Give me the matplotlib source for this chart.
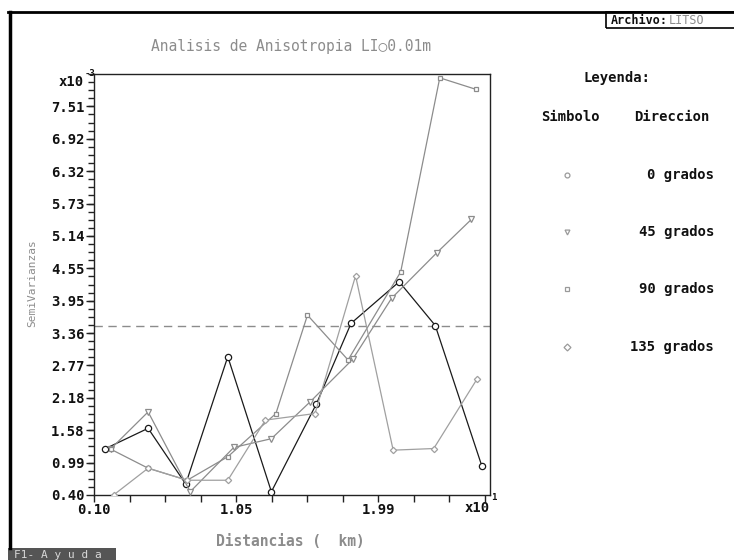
import numpy as np
import matplotlib
matplotlib.use("Agg")
import matplotlib.pyplot as plt
import matplotlib.patches as patches
from matplotlib.lines import Line2D

# lag distances (x10 km) and semivariances (x10^-3) per direction
dist_0 = [0.17, 0.46, 0.71, 0.99, 1.28, 1.58, 1.81, 2.13, 2.37, 2.68]
semi_0 = [1.24, 1.62, 0.60, 2.93, 0.46, 2.07, 3.54, 4.30, 3.50, 0.93]
dist_45 = [0.21, 0.46, 0.74, 1.03, 1.28, 1.54, 1.82, 2.08, 2.38, 2.61]
semi_45 = [1.24, 1.92, 0.46, 1.27, 1.43, 2.11, 2.88, 4.00, 4.83, 5.44]
dist_90 = [0.21, 0.46, 0.72, 0.99, 1.31, 1.52, 1.79, 2.14, 2.40, 2.64]
semi_90 = [1.24, 0.89, 0.67, 1.10, 1.89, 3.69, 2.87, 4.48, 8.03, 7.82]
dist_135 = [0.23, 0.46, 0.72, 0.99, 1.24, 1.57, 1.84, 2.09, 2.36, 2.65]
semi_135 = [0.40, 0.89, 0.67, 0.67, 1.77, 1.89, 4.41, 1.22, 1.25, 2.53]
sill = 3.50

y_labels = ["0.40", "0.99", "1.58", "2.18", "2.77", "3.36", "3.95",
            "4.55", "5.14", "5.73", "6.32", "6.92", "7.51"]
x_labels = ["0.10", "1.05", "1.99"]
directions = ["0 grados", "45 grados", "90 grados", "135 grados"]

W, H = 734, 560
MONO = ["DejaVu Sans Mono", "DejaVu Sans"]
GRAY = "#8c8c8c"


def fx(px):
    return px / W


def fy(py):
    return 1 - py / H


fig = plt.figure(figsize=(W / 100, H / 100), dpi=100)
fig.patch.set_facecolor("white")
ax = fig.add_axes([fx(94), fy(495), fx(490) - fx(94), fy(74) - fy(495)])

series = [
    (dist_0, semi_0, "o", "#1a1a1a", 4.5),
    (dist_45, semi_45, "v", GRAY, 4.0),
    (dist_90, semi_90, "s", GRAY, 3.2),
    (dist_135, semi_135, "D", "#a0a0a0", 3.2),
]
for xs, ys, m, c, ms in series:
    ax.plot(xs, ys, color=c, lw=0.9, marker=m, ms=ms,
            mfc="white", mec=c, mew=0.9, zorder=3)

ax.axhline(sill, color=GRAY, lw=1.0, ls=(0, (6, 4)), zorder=2)

ymin, ymax = 0.40, 8.10
step_y = (ymax - ymin) / 13
ax.set_ylim(ymin, ymax)
ax.set_yticks([float(v) for v in y_labels])
ax.set_yticklabels(y_labels)
ax.set_yticks(np.arange(ymin, ymax + 1e-6, step_y / 4), minor=True)

step_x = (1.99 - 0.10) / 8
xmax = 0.10 + 11.15 * step_x
ax.set_xlim(0.10, xmax)
xt = np.arange(0.10, xmax, step_x)
ax.set_xticks(xt)
ax.set_xticklabels([x_labels[i // 4] if i % 4 == 0 else "" for i in range(len(xt))])

for s in ax.spines.values():
    s.set_color("#222222")
    s.set_linewidth(1.0)
ax.tick_params(axis="both", which="major", direction="out", length=6,
               width=1, color="#222222", pad=1)
ax.tick_params(axis="y", which="minor", direction="out", length=4,
               width=1, color="#222222")
ax.tick_params(axis="x", which="major", length=5)
for lab in ax.get_yticklabels() + ax.get_xticklabels():
    lab.set_family(MONO)
    lab.set_fontweight("bold")
    lab.set_fontsize(10)
    lab.set_color("#111111")

# multipliers
fig.text(fx(84), fy(82), "x10", family=MONO, weight="bold", fontsize=10,
         ha="right", va="center", color="#111111")
fig.text(fx(85), fy(73), "-3", family=MONO, weight="bold", fontsize=6.5,
         ha="left", va="center", color="#111111")
fig.text(fx(490), fy(508), "x10", family=MONO, weight="bold", fontsize=10,
         ha="right", va="center", color="#111111")
fig.text(fx(491), fy(498), "1", family=MONO, weight="bold", fontsize=6.5,
         ha="left", va="center", color="#111111")

# titles
fig.text(fx(291), fy(47), "Analisis de Anisotropia LI\u25cb0.01m", family=MONO,
         fontsize=10.5, color=GRAY, ha="center", va="center")
fig.text(fx(290), fy(542), "Distancias (  km)", family=MONO, fontsize=10.5,
         weight="bold", color=GRAY, ha="center", va="center")
fig.text(fx(32), fy(283), "SemiVarianzas", family=MONO, fontsize=8,
         color=GRAY, rotation=90, ha="center", va="center")

# legend
fig.text(fx(617), fy(78), "Leyenda:", family=MONO, weight="bold",
         fontsize=10, ha="center", va="center", color="#111111")
fig.text(fx(570), fy(117), "Simbolo", family=MONO, weight="bold",
         fontsize=10, ha="center", va="center", color="#111111")
fig.text(fx(672), fy(117), "Direccion", family=MONO, weight="bold",
         fontsize=10, ha="center", va="center", color="#111111")
rows = [175, 232, 289, 347]
for (xs, ys, m, c, ms), name, ry in zip(series, directions, rows):
    fig.add_artist(Line2D([fx(567)], [fy(ry)], marker=m, ms=3.5,
                          mfc="white", mec="#9a9a9a", mew=0.9, ls="none"))
    fig.text(fx(714), fy(ry), name, family=MONO, weight="bold", fontsize=10,
             ha="right", va="center", color="#111111")

# screen frame
fig.add_artist(Line2D([fx(8), fx(734)], [fy(12), fy(12)], color="black", lw=2))
fig.add_artist(Line2D([fx(10), fx(10)], [fy(12), fy(548)], color="black", lw=2.5))
box = patches.Rectangle((fx(606), fy(28)), fx(740) - fx(606), fy(12) - fy(28),
                        transform=fig.transFigure, fill=False, ec="black", lw=1.2)
fig.add_artist(box)
fig.text(fx(611), fy(20), "Archivo:", family=MONO, weight="bold", fontsize=8.5,
         ha="left", va="center", color="#111111")
fig.text(fx(669), fy(20), "LITSO", family=MONO, fontsize=8.5,
         ha="left", va="center", color=GRAY)
help_box = patches.Rectangle((fx(8), fy(560)), fx(116) - fx(8), fy(548) - fy(560),
                             transform=fig.transFigure, color="#555555", lw=0)
fig.add_artist(help_box)
fig.text(fx(14), fy(555), "F1- A y u d a", family=MONO, fontsize=8,
         ha="left", va="center", color="#d8d8d8")

fig.savefig("out.png", dpi=100)
